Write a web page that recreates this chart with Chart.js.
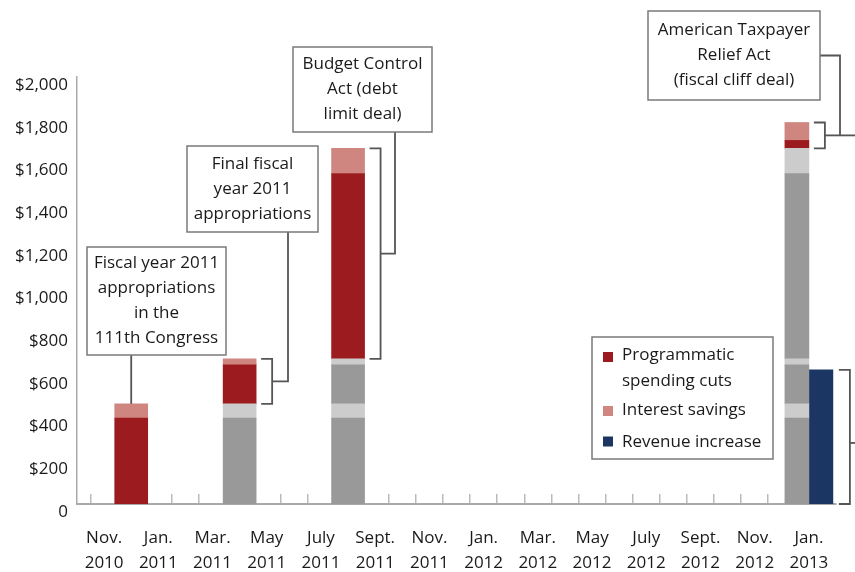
<!DOCTYPE html>
<html>
<head>
<meta charset="utf-8">
<script src="https://cdn.jsdelivr.net/npm/chart.js@4.4.1/dist/chart.umd.min.js"></script>
<style>
  html, body { margin: 0; padding: 0; background: #fff; }
  #wrap { position: relative; width: 855px; height: 572px; }
</style>
</head>
<body>
<div id="wrap"><canvas id="deficit-chart"></canvas></div>
<script>
// months on the x axis, Oct. 2010 .. Feb. 2013 (only every other one gets a label)
const MONTH_LABELS = [
  ["Oct.", "2010"], ["Nov.", "2010"], ["Dec.", "2010"],
  ["Jan.", "2011"], ["Feb.", "2011"], ["Mar.", "2011"], ["Apr.", "2011"], ["May", "2011"], ["June", "2011"],
  ["July", "2011"], ["Aug.", "2011"], ["Sept.", "2011"], ["Oct.", "2011"], ["Nov.", "2011"], ["Dec.", "2011"],
  ["Jan.", "2012"], ["Feb.", "2012"], ["Mar.", "2012"], ["Apr.", "2012"], ["May", "2012"], ["June", "2012"],
  ["July", "2012"], ["Aug.", "2012"], ["Sept.", "2012"], ["Oct.", "2012"], ["Nov.", "2012"], ["Dec.", "2012"],
  ["Jan.", "2013"], ["Feb.", "2013"],
];

// the four deals, in billions of dollars
const EVENT_MONTHS = ["Dec. 2010", "Apr. 2011", "Aug. 2011", "Jan. 2013"];
const PROGRAMMATIC_CUTS = [403, 183, 868, 37];
const INTEREST_SAVINGS = [66, 28, 118, 84];
const REVENUE_INCREASE = [0, 0, 0, 628];

const Y_TICKS = [0, 200, 400, 600, 800, 1000, 1200, 1400, 1600, 1800, 2000];

const COLORS = {
  cuts: "#9b1b1f",
  interest: "#cf8680",
  priorCuts: "#999999",
  priorInterest: "#cccccc",
  revenue: "#1c3664",
  text: "#1a1a1a",
  axis: "#aaaaaa",
  box: "#7a7a7a",
  line: "#555555",
};
const FONT = "'Open Sans', Lato, sans-serif";

const LEGEND_ITEMS = [
  { lines: ["Programmatic", "spending cuts"], color: COLORS.cuts },
  { lines: ["Interest savings"], color: COLORS.interest },
  { lines: ["Revenue increase"], color: COLORS.revenue },
];

// callout boxes: x, y, w, h in px; link = how the box connects to its bar
const CALLOUTS = [
  { event: 0, lines: ["Fiscal year 2011", "appropriations", "in the", "111th Congress"], box: [87, 247, 139, 108], link: "stem" },
  { event: 1, lines: ["Final fiscal", "year 2011", "appropriations"], box: [187, 146, 131, 86], link: "bracket", elbowX: 288 },
  { event: 2, lines: ["Budget Control", "Act (debt", "limit deal)"], box: [293, 47, 139, 85], link: "bracket", elbowX: 395 },
  { event: 3, lines: ["American Taxpayer", "Relief Act", "(fiscal cliff deal)"], box: [648, 11, 172, 89], link: "side", elbowX: 840 },
];

const monthIndex = MONTH_LABELS.map(m => m.join(" "));
const eventIdx = EVENT_MONTHS.map(m => monthIndex.indexOf(m));

function seriesAt(entries) {
  const arr = MONTH_LABELS.map(() => null);
  entries.forEach(([i, v]) => { arr[i] = v; });
  return arr;
}

function bar(label, data, color, thickness, extra) {
  return {
    label, data, backgroundColor: color, borderWidth: 0,
    barThickness: thickness, stack: "savings", skipNull: true, ...extra,
  };
}

// each deal's bar carries the earlier deals underneath in grey
function buildGroup(events, thickness) {
  const last = Math.max(...events);
  const sets = [];
  for (let k = 0; k < last; k++) {
    const later = events.filter(e => e > k);
    sets.push(bar("Earlier cuts", seriesAt(later.map(e => [eventIdx[e], PROGRAMMATIC_CUTS[k]])), COLORS.priorCuts, thickness));
    sets.push(bar("Earlier interest", seriesAt(later.map(e => [eventIdx[e], INTEREST_SAVINGS[k]])), COLORS.priorInterest, thickness));
  }
  sets.push(bar("Programmatic spending cuts", seriesAt(events.map(e => [eventIdx[e], PROGRAMMATIC_CUTS[e]])), COLORS.cuts, thickness, { role: "cuts" }));
  sets.push(bar("Interest savings", seriesAt(events.map(e => [eventIdx[e], INTEREST_SAVINGS[e]])), COLORS.interest, thickness, { role: "interest" }));
  return sets;
}

const revenueEvents = REVENUE_INCREASE.map((v, i) => i).filter(i => REVENUE_INCREASE[i] > 0);
const datasets = [
  ...buildGroup([0, 1, 2], 33),
  ...buildGroup([3], 24),
  bar("Revenue increase", seriesAt(revenueEvents.map(e => [eventIdx[e], REVENUE_INCREASE[e]])), COLORS.revenue, 24, { stack: "revenue", role: "revenue" }),
];

function elementFor(chart, role, e) {
  const i = eventIdx[e];
  const di = chart.data.datasets.findIndex(d => d.role === role && d.data[i] != null);
  return chart.getDatasetMeta(di).data[i].getProps(["x", "y", "base", "width"], true);
}

function line(ctx, pts) {
  ctx.beginPath();
  ctx.moveTo(pts[0][0], pts[0][1]);
  pts.slice(1).forEach(p => ctx.lineTo(p[0], p[1]));
  ctx.stroke();
}

function bracket(ctx, left, top, bottom) {
  const v = left + 11;
  line(ctx, [[left, top], [v, top], [v, bottom], [left, bottom]]);
  return { x: v, mid: (top + bottom) / 2 };
}

function textBox(ctx, c) {
  const [x, y, w, h] = c.box;
  ctx.strokeStyle = COLORS.box;
  ctx.lineWidth = 1.5;
  ctx.fillStyle = "#fff";
  ctx.fillRect(x, y, w, h);
  ctx.strokeRect(x, y, w, h);
  ctx.fillStyle = COLORS.text;
  ctx.font = `17px ${FONT}`;
  ctx.textAlign = "center";
  ctx.textBaseline = "middle";
  const cy = y + h / 2;
  c.lines.forEach((t, i) => ctx.fillText(t, x + w / 2, cy + (i - (c.lines.length - 1) / 2) * 25));
}

const calloutPlugin = {
  id: "callouts",
  afterDatasetsDraw(chart) {
    const { ctx } = chart;
    ctx.save();
    CALLOUTS.forEach(c => {
      const cuts = elementFor(chart, "cuts", c.event);
      const interest = elementFor(chart, "interest", c.event);
      const [bx, by, bw, bh] = c.box;
      ctx.strokeStyle = COLORS.line;
      ctx.lineWidth = 1.8;
      if (c.link === "stem") {
        line(ctx, [[cuts.x, interest.y], [cuts.x, by + bh]]);
      } else {
        const b = bracket(ctx, cuts.x + cuts.width / 2 + 5, interest.y, cuts.base);
        if (c.link === "bracket") {
          line(ctx, [[b.x, b.mid], [c.elbowX, b.mid], [c.elbowX, by + bh]]);
        } else {
          line(ctx, [[b.x, b.mid], [chart.width, b.mid]]);
          line(ctx, [[c.elbowX, b.mid], [c.elbowX, by + bh / 2], [bx + bw, by + bh / 2]]);
        }
      }
      textBox(ctx, c);
    });

    // bracket beside the revenue bar
    revenueEvents.forEach(e => {
      const rev = elementFor(chart, "revenue", e);
      ctx.strokeStyle = COLORS.line;
      ctx.lineWidth = 1.8;
      const b = bracket(ctx, rev.x + rev.width / 2 + 6, rev.y, rev.base);
      line(ctx, [[b.x, b.mid + 6], [chart.width, b.mid + 6]]);
    });

    // legend box
    const lx = 592, ly = 337, lw = 181, lh = 122;
    ctx.fillStyle = "#fff";
    ctx.fillRect(lx, ly, lw, lh);
    ctx.strokeStyle = COLORS.box;
    ctx.lineWidth = 1.5;
    ctx.strokeRect(lx, ly, lw, lh);
    ctx.font = `17px ${FONT}`;
    ctx.textAlign = "left";
    ctx.textBaseline = "middle";
    const rows = [[355, 357], [410, 411], [442, 441.5]];
    LEGEND_ITEMS.forEach((item, i) => {
      const [ty, sy] = rows[i];
      ctx.fillStyle = item.color;
      ctx.fillRect(lx + 11, sy - 5, 10, 10);
      ctx.fillStyle = COLORS.text;
      item.lines.forEach((t, j) => ctx.fillText(t, lx + 30, ty + j * 26.5));
    });
    ctx.restore();
  },
};

const ctx = document.getElementById("deficit-chart").getContext("2d");
new Chart(ctx, {
  type: "bar",
  data: { labels: MONTH_LABELS, datasets },
  options: {
    responsive: true,
    maintainAspectRatio: false,
    animation: false,
    events: [],
    layout: { padding: { left: 0, right: 19, top: 77, bottom: 0 } },
    plugins: { legend: { display: false }, tooltip: { enabled: false } },
    scales: {
      x: {
        stacked: true,
        offset: false,
        afterFit: s => { s.height = 68; s.paddingLeft = 0; s.paddingRight = 0; },
        border: { display: true, color: COLORS.axis, width: 2 },
        grid: { display: true, drawOnChartArea: false, drawTicks: true, tickLength: -10, color: "#bbbbbb", lineWidth: 1.5 },
        ticks: {
          autoSkip: false, maxRotation: 0, padding: 31.5,
          color: COLORS.text,
          font: { family: FONT, size: 17, lineHeight: 25 / 17 },
          callback: (v, i) => (i % 2 === 1 ? MONTH_LABELS[i] : ""),
        },
      },
      y: {
        stacked: true,
        min: Y_TICKS[0],
        max: Y_TICKS[Y_TICKS.length - 1],
        afterFit: s => { s.width = 77; },
        afterBuildTicks: s => { s.ticks = Y_TICKS.map(v => ({ value: v })); },
        border: { display: true, color: COLORS.axis, width: 1.5 },
        grid: { display: false, drawTicks: false },
        ticks: {
          padding: 9, labelOffset: 8,
          color: COLORS.text,
          font: { family: FONT, size: 17 },
          callback: v => (v === 0 ? "0" : "$" + v.toLocaleString("en-US")),
        },
      },
    },
  },
  plugins: [calloutPlugin],
});
</script>
</body>
</html>
